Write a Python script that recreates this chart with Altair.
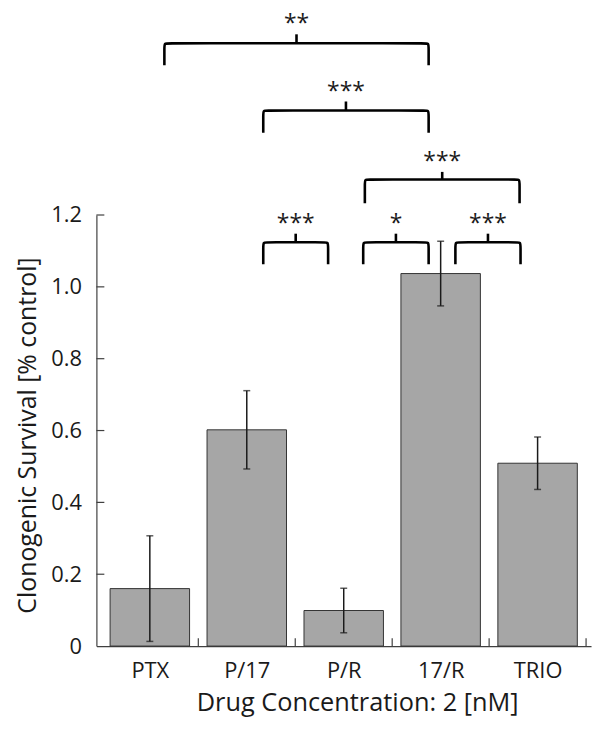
import altair as alt
import pandas as pd

# ---- data ----
categories = ["PTX", "P/17", "P/R", "17/R", "TRIO"]
survival = [0.160, 0.602, 0.099, 1.037, 0.509]
error = [0.147, 0.109, 0.062, 0.090, 0.073]
y_ticks = [0, 0.2, 0.4, 0.6, 0.8, 1.0, 1.2]

# significance brackets (x in category-index units, y in data units)
bracket_left = [0.150, 1.170, 2.218, 1.170, 2.201, 3.152]
bracket_right = [2.876, 2.876, 3.814, 1.839, 2.876, 3.824]
bracket_line = [1.678, 1.491, 1.299, 1.124, 1.124, 1.124]
bracket_bottom = [1.617, 1.429, 1.233, 1.063, 1.063, 1.063]
bracket_top = [1.703, 1.516, 1.320, 1.148, 1.148, 1.148]
bracket_label = ["**", "***", "***", "***", "*", "***"]

W, H = 498, 434
FONT = "Open Sans"
INK = "#1a1a1a"

bars = pd.DataFrame({
    "cat": categories,
    "idx": list(range(len(categories))),
    "value": survival,
    "lo": [v - e for v, e in zip(survival, error)],
    "hi": [v + e for v, e in zip(survival, error)],
})

bounds = pd.DataFrame({"b": [i + 0.5 for i in range(len(categories))]})
yt = pd.DataFrame({"t": [t for t in y_ticks if t > 0]})

rx, ry = 0.045, 0.012
rows = []
for k, (L, R, y, b) in enumerate(zip(bracket_left, bracket_right, bracket_line, bracket_bottom)):
    pts = [(L, b), (L, y - ry), (L, y), (L + rx, y), (R - rx, y), (R, y), (R, y - ry), (R, b)]
    for o, (px, py) in enumerate(pts):
        rows.append({"bid": k, "ord": o, "x": px, "y": py})
bpath = pd.DataFrame(rows)
bmid = pd.DataFrame({
    "mid": [(l + r) / 2 for l, r in zip(bracket_left, bracket_right)],
    "line": bracket_line,
    "top": bracket_top,
    "label": bracket_label,
})

xscale = alt.Scale(domain=[-0.5, len(categories) - 0.5], nice=False, zero=False)
yscale = alt.Scale(domain=[0, 1.2], nice=False, zero=True)

label_js = "[" + ",".join("'" + c + "'" for c in categories) + "][datum.value]"

xaxis = alt.Axis(
    values=list(range(len(categories))), labelExpr=label_js, ticks=False, tickSize=0,
    grid=False, domainColor="#404040", domainWidth=1.2,
    labelFont=FONT, labelFontSize=22, labelColor=INK, labelPadding=32, labelBaseline="alphabetic",
    title="Drug Concentration: 2 [nM]", titleFont=FONT, titleFontSize=25.5, titleFontWeight="normal",
    titleColor=INK, titleX=262.5, titleY=65, titleBaseline="alphabetic", titleAlign="center",
)
yaxis = alt.Axis(
    values=y_ticks, labelExpr="datum.value == 0 ? '0' : format(datum.value, '.1f')",
    ticks=False, tickSize=0, grid=False, domainColor="#404040", domainWidth=1.2,
    labelFont=FONT, labelFontSize=22, labelColor=INK, labelPadding=15,
    title="Clonogenic Survival [% control]", titleFont=FONT, titleFontSize=25,
    titleFontWeight="normal", titleColor=INK, titleX=-61, titleY=221.5,
    titleBaseline="alphabetic", titleAlign="center",
)


def X(field):
    return alt.X(field, scale=xscale, axis=xaxis)


def Y(field):
    return alt.Y(field, scale=yscale, axis=yaxis)


bar_layer = alt.Chart(bars).mark_bar(size=80, color="#a6a6a6", stroke="#333333", strokeWidth=1).encode(
    x=X("idx:Q"), y=Y("value:Q"),
)

err_rule = alt.Chart(bars).mark_rule(color=INK, strokeWidth=1.5).encode(
    x=X("idx:Q"), y=Y("lo:Q"), y2="hi:Q",
)
cap_lo = alt.Chart(bars).mark_tick(color=INK, orient="horizontal", size=7, thickness=1.5).encode(
    x=X("idx:Q"), y=Y("lo:Q"),
)
cap_hi = alt.Chart(bars).mark_tick(color=INK, orient="horizontal", size=7, thickness=1.5).encode(
    x=X("idx:Q"), y=Y("hi:Q"),
)

xticks = alt.Chart(bounds).mark_rule(color="#404040", strokeWidth=1.2).encode(
    x=X("b:Q"), y=alt.value(H), y2=alt.value(H - 8),
)
yticks = alt.Chart(yt).mark_rule(color="#404040", strokeWidth=1.2).encode(
    y=Y("t:Q"), x=alt.value(0), x2=alt.value(8),
)

brackets = alt.Chart(bpath).mark_line(color="black", strokeWidth=2.6, interpolate="basis", clip=False).encode(
    x=X("x:Q"), y=Y("y:Q"), detail="bid:N", order="ord:Q",
)
btick = alt.Chart(bmid).mark_rule(color="black", strokeWidth=2.6, clip=False).encode(
    x=X("mid:Q"), y=Y("line:Q"), y2="top:Q",
)
btext = alt.Chart(bmid).mark_text(font=FONT, fontSize=23, color=INK, baseline="alphabetic",
                                  dy=-3, clip=False).encode(
    x=X("mid:Q"), y=Y("top:Q"), text="label:N",
)

chart = alt.layer(
    bar_layer, err_rule, cap_lo, cap_hi, xticks, yticks, brackets, btick, btext
).properties(
    width=W, height=H,
    autosize=alt.AutoSizeParams(type="none"),
    padding={"left": 89, "top": 206, "right": 5, "bottom": 70},
).configure_view(stroke=None)

chart.save("out.html", embed_options={"renderer": "svg", "actions": False})
